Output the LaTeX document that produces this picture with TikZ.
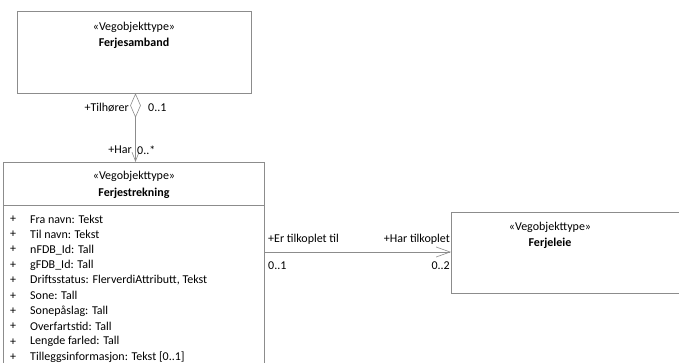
\documentclass[tikz,border=0pt]{standalone}
\usepackage{fontspec}
\setmainfont{Carlito}
\usetikzlibrary{arrows.meta}
\begin{document}
\begin{tikzpicture}[x=1pt,y=-1pt,
  box/.style={draw=black!45,line width=0.6pt},
  conn/.style={draw=black!45,line width=0.6pt},
  lbl/.style={font=\fontsize{12}{14}\selectfont,inner sep=0pt},
  stereo/.style={font=\fontsize{12}{14}\selectfont,inner sep=0pt},
  cname/.style={font=\fontsize{12}{14}\selectfont\bfseries,inner sep=0pt},
  attr/.style={font=\fontsize{12}{14}\selectfont,inner sep=0pt,anchor=west},
  openarrow/.style={-{Straight Barb[length=14pt,width=10pt,line width=0.6pt]}}
]
\useasboundingbox (0,0) rectangle (679,363);
\begin{scope}
\clip (0,0) rectangle (679,363);
% Ferjesamband
\draw[box] (17,11) rectangle (251,93);
\node[stereo] (s1) at (134,27) {«Vegobjekttype»};
\node[cname] (n1) at (134,43) {Ferjesamband};
% Ferjestrekning
\draw[box] (3,162) rectangle (264,380);
\draw[box] (3,205) -- (264,205);
\node[stereo] (s2) at (134,176) {«Vegobjekttype»};
\node[cname] (n2) at (134,193) {Ferjestrekning};
\foreach \t [count=\i from 0] in {Fra navn: Tekst, Til navn: Tekst, nFDB\_Id: Tall, gFDB\_Id: Tall, {Driftsstatus: FlerverdiAttributt, Tekst}, Sone: Tall, Sonepåslag: Tall, Overfartstid: Tall, Lengde farled: Tall, {Tilleggsinformasjon: Tekst [0..1]}}{
  \node[attr] (p\i) at (10,219+15.35*\i) {+};
  \node[attr] (a\i) at (30,219+15.35*\i) {\t};
}
% Ferjeleie
\draw[box] (451,212) rectangle (690,293);
\node[stereo] (s3) at (550,227) {«Vegobjekttype»};
\node[cname] (n3) at (550,243) {Ferjeleie};
\end{scope}
% named anchors
\coordinate (dtop) at (135.5,94);
\coordinate (dl) at (130.5,105.5);
\coordinate (dr) at (140.5,105.5);
\coordinate (dbot) at (135.5,117);
\coordinate (ftop) at (135.5,162);
\coordinate (hstart) at (264,252);
\coordinate (hend) at (451,252);
% aggregation
\draw[conn,fill=white] (dtop) -- (dl) -- (dbot) -- (dr) -- cycle;
\draw[conn,-{Straight Barb[length=9pt,width=7pt,line width=0.6pt]}] (dbot) -- (ftop);
\node[lbl,anchor=east] (l1) at (129,108) {+Tilhører};
\node[lbl,anchor=west] (l2) at (148,108) {0..1};
\node[lbl,anchor=east] (l3) at (132,150) {+Har};
\node[lbl,anchor=west] (l4) at (137,150) {0..*};
% association
\draw[conn,openarrow] (hstart) -- (hend);
\node[lbl,anchor=west] (l5) at (268,239) {+Er tilkoplet til};
\node[lbl,anchor=east] (l6) at (450,239) {+Har tilkoplet};
\node[lbl,anchor=west] (l7) at (268,266) {0..1};
\node[lbl,anchor=east] (l8) at (450,266) {0..2};
\end{tikzpicture}
\end{document}
